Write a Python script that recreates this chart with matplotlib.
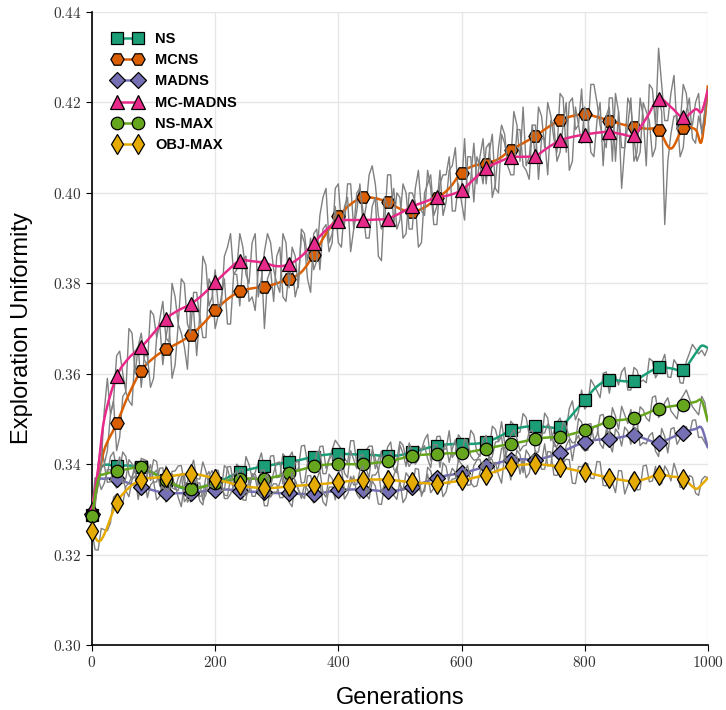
import numpy as np
import matplotlib
matplotlib.use("Agg")
import matplotlib.pyplot as plt
from matplotlib.path import Path
from matplotlib.patches import PathPatch
from matplotlib.lines import Line2D
from matplotlib.ticker import FuncFormatter

plt.rcParams["mathtext.fontset"] = "cm"

# ---------------------------------------------------------------- data
methods = ["NS", "MCNS", "MADNS", "MC-MADNS", "NS-MAX", "OBJ-MAX"]
colors = ["#1b9e77", "#d95f02", "#7570b3", "#e7298a", "#66a61e", "#e6ab02"]
markers = ["s", "H", "D", "^", "o", "d"]

# per-run raw measurements, logged at generations 0, 10, ..., 1000
raw_gen_even = list(range(0, 1001, 10))
# ... and at the in-between generations 5, 15, ..., 995
raw_gen_odd = list(range(5, 1000, 10))

raw_ns = [0.3288, 0.3385, 0.3378, 0.3417, 0.3386, 0.3427, 0.3377, 0.3405, 0.3363, 0.3407,
          0.3380, 0.3353, 0.3396, 0.3348, 0.3370, 0.3317, 0.3355, 0.3367, 0.3330, 0.3384,
          0.3348, 0.3344, 0.3390, 0.3347, 0.3393, 0.3417, 0.3370, 0.3403, 0.3386, 0.3418,
          0.3370, 0.3423, 0.3415, 0.3388, 0.3440, 0.3403, 0.3397, 0.3439, 0.3391, 0.3432,
          0.3443, 0.3413, 0.3452, 0.3401, 0.3411, 0.3440, 0.3390, 0.3429, 0.3438, 0.3399,
          0.3450, 0.3413, 0.3406, 0.3440, 0.3454, 0.3408, 0.3461, 0.3433, 0.3474, 0.3425,
          0.3455, 0.3425, 0.3465, 0.3417, 0.3459, 0.3484, 0.3450, 0.3448, 0.3495, 0.3469,
          0.3512, 0.3463, 0.3494, 0.3453, 0.3502, 0.3472, 0.3502, 0.3475, 0.3540, 0.3516,
          0.3522, 0.3587, 0.3562, 0.3601, 0.3557, 0.3596, 0.3604, 0.3564, 0.3614, 0.3582,
          0.3580, 0.3628, 0.3604, 0.3643, 0.3592, 0.3620, 0.3579, 0.3645, 0.3655, 0.3652,
          0.3657]
raw_ns_mid = [0.3352, 0.3377, 0.3378, 0.3427, 0.3387, 0.3417, 0.3366, 0.3404, 0.3410, 0.3364,
              0.3387, 0.3340, 0.3382, 0.3344, 0.3379, 0.3326, 0.3356, 0.3329, 0.3372, 0.3346,
              0.3341, 0.3397, 0.3364, 0.3400, 0.3355, 0.3399, 0.3382, 0.3425, 0.3377, 0.3419,
              0.3372, 0.3414, 0.3427, 0.3389, 0.3442, 0.3405, 0.3398, 0.3440, 0.3412, 0.3453,
              0.3433, 0.3403, 0.3452, 0.3391, 0.3431, 0.3440, 0.3410, 0.3399, 0.3449, 0.3410,
              0.3442, 0.3395, 0.3429, 0.3431, 0.3466, 0.3420, 0.3462, 0.3434, 0.3415, 0.3465,
              0.3435, 0.3475, 0.3426, 0.3449, 0.3432, 0.3477, 0.3494, 0.3442, 0.3487, 0.3471,
              0.3503, 0.3464, 0.3485, 0.3513, 0.3452, 0.3492, 0.3479, 0.3523, 0.3498, 0.3564,
              0.3530, 0.3575, 0.3547, 0.3604, 0.3597, 0.3575, 0.3614, 0.3564, 0.3608, 0.3586,
              0.3634, 0.3591, 0.3624, 0.3593, 0.3631, 0.3580, 0.3627, 0.3665, 0.3644, 0.3640]

raw_mcns = [0.329, 0.340, 0.340, 0.351, 0.343, 0.355, 0.354, 0.365, 0.357, 0.364,
            0.359, 0.371, 0.368, 0.359, 0.371, 0.366, 0.374, 0.364, 0.368, 0.381,
            0.370, 0.377, 0.371, 0.382, 0.375, 0.386, 0.377, 0.383, 0.370, 0.383,
            0.386, 0.377, 0.383, 0.377, 0.391, 0.381, 0.391, 0.383, 0.393, 0.389,
            0.402, 0.393, 0.402, 0.396, 0.393, 0.404, 0.402, 0.392, 0.404, 0.393,
            0.399, 0.391, 0.400, 0.388, 0.400, 0.404, 0.397, 0.395, 0.405, 0.410,
            0.401, 0.399, 0.411, 0.408, 0.402, 0.413, 0.400, 0.411, 0.407, 0.415,
            0.419, 0.408, 0.407, 0.417, 0.420, 0.412, 0.422, 0.409, 0.421, 0.415,
            0.412, 0.424, 0.420, 0.412, 0.421, 0.407, 0.401, 0.421, 0.412, 0.409,
            0.418, 0.408, 0.421, 0.393, 0.413, 0.417, 0.410, 0.421, 0.411, 0.414,
            0.422]
raw_mcns_mid = [0.330, 0.345, 0.343, 0.354, 0.346, 0.356, 0.353, 0.366, 0.364, 0.357,
                0.368, 0.362, 0.372, 0.362, 0.369, 0.361, 0.374, 0.373, 0.368, 0.379,
                0.373, 0.381, 0.371, 0.382, 0.385, 0.376, 0.374, 0.385, 0.381, 0.376,
                0.388, 0.376, 0.384, 0.380, 0.389, 0.378, 0.392, 0.392, 0.387, 0.401,
                0.393, 0.402, 0.392, 0.402, 0.397, 0.406, 0.395, 0.393, 0.404, 0.400,
                0.390, 0.400, 0.398, 0.389, 0.402, 0.395, 0.405, 0.398, 0.406, 0.399,
                0.412, 0.403, 0.402, 0.412, 0.409, 0.401, 0.413, 0.407, 0.418, 0.407,
                0.406, 0.415, 0.419, 0.410, 0.417, 0.409, 0.421, 0.420, 0.414, 0.423,
                0.413, 0.424, 0.415, 0.410, 0.421, 0.418, 0.410, 0.419, 0.407, 0.420,
                0.416, 0.410, 0.418, 0.407, 0.417, 0.408, 0.418, 0.412, 0.417, 0.415]

raw_madns = [0.3290, 0.3370, 0.3358, 0.3388, 0.3347, 0.3373, 0.3328, 0.3374, 0.3360, 0.3326,
             0.3362, 0.3329, 0.3316, 0.3366, 0.3326, 0.3356, 0.3316, 0.3348, 0.3310, 0.3362,
             0.3333, 0.3364, 0.3324, 0.3353, 0.3371, 0.3320, 0.3329, 0.3358, 0.3308, 0.3347,
             0.3356, 0.3326, 0.3316, 0.3365, 0.3324, 0.3344, 0.3314, 0.3356, 0.3308, 0.3350,
             0.3362, 0.3323, 0.3354, 0.3334, 0.3374, 0.3323, 0.3352, 0.3311, 0.3360, 0.3331,
             0.3363, 0.3326, 0.3380, 0.3345, 0.3340, 0.3385, 0.3360, 0.3403, 0.3356, 0.3368,
             0.3400, 0.3353, 0.3397, 0.3411, 0.3375, 0.3409, 0.3393, 0.3437, 0.3390, 0.3431,
             0.3381, 0.3420, 0.3430, 0.3403, 0.3396, 0.3450, 0.3415, 0.3441, 0.3408, 0.3464,
             0.3429, 0.3462, 0.3484, 0.3435, 0.3446, 0.3478, 0.3440, 0.3473, 0.3495, 0.3441,
             0.3445, 0.3470, 0.3417, 0.3461, 0.3478, 0.3444, 0.3480, 0.3465, 0.3498, 0.3460,
             0.3436]
raw_madns_mid = [0.3335, 0.3344, 0.3388, 0.3358, 0.3395, 0.3341, 0.3366, 0.3322, 0.3368, 0.3354,
                 0.3321, 0.3368, 0.3326, 0.3356, 0.3306, 0.3346, 0.3357, 0.3319, 0.3351, 0.3333,
                 0.3374, 0.3324, 0.3334, 0.3362, 0.3321, 0.3370, 0.3329, 0.3348, 0.3308, 0.3357,
                 0.3326, 0.3356, 0.3306, 0.3345, 0.3354, 0.3324, 0.3365, 0.3317, 0.3349, 0.3321,
                 0.3363, 0.3334, 0.3374, 0.3324, 0.3334, 0.3363, 0.3312, 0.3351, 0.3361, 0.3322,
                 0.3315, 0.3368, 0.3363, 0.3338, 0.3393, 0.3358, 0.3352, 0.3395, 0.3367, 0.3409,
                 0.3392, 0.3355, 0.3409, 0.3383, 0.3417, 0.3381, 0.3435, 0.3399, 0.3391, 0.3421,
                 0.3431, 0.3390, 0.3402, 0.3445, 0.3398, 0.3433, 0.3398, 0.3455, 0.3451, 0.3437,
                 0.3431, 0.3483, 0.3445, 0.3476, 0.3427, 0.3469, 0.3482, 0.3444, 0.3493, 0.3448,
                 0.3463, 0.3429, 0.3479, 0.3425, 0.3481, 0.3457, 0.3483, 0.3497, 0.3459, 0.3448]

raw_mcmadns = [0.330, 0.336, 0.352, 0.351, 0.364, 0.360, 0.370, 0.360, 0.369, 0.362,
               0.373, 0.372, 0.368, 0.380, 0.371, 0.380, 0.369, 0.378, 0.386, 0.375,
               0.383, 0.375, 0.388, 0.382, 0.391, 0.382, 0.389, 0.377, 0.387, 0.389,
               0.380, 0.391, 0.379, 0.386, 0.392, 0.385, 0.383, 0.395, 0.401, 0.391,
               0.389, 0.397, 0.387, 0.400, 0.396, 0.390, 0.399, 0.385, 0.397, 0.401,
               0.394, 0.400, 0.392, 0.405, 0.395, 0.401, 0.393, 0.404, 0.408, 0.396,
               0.398, 0.408, 0.398, 0.406, 0.410, 0.399, 0.410, 0.413, 0.404, 0.414,
               0.406, 0.403, 0.415, 0.412, 0.404, 0.415, 0.409, 0.420, 0.407, 0.415,
               0.419, 0.409, 0.416, 0.406, 0.419, 0.422, 0.410, 0.415, 0.407, 0.421,
               0.406, 0.423, 0.432, 0.416, 0.422, 0.414, 0.424, 0.415, 0.420, 0.413,
               0.423]
raw_mcmadns_mid = [0.337, 0.340, 0.359, 0.354, 0.365, 0.356, 0.369, 0.366, 0.363, 0.374,
                   0.368, 0.376, 0.367, 0.377, 0.381, 0.371, 0.378, 0.372, 0.384, 0.377,
                   0.375, 0.386, 0.391, 0.383, 0.388, 0.380, 0.391, 0.381, 0.391, 0.383,
                   0.378, 0.389, 0.388, 0.379, 0.391, 0.390, 0.385, 0.399, 0.389, 0.397,
                   0.388, 0.399, 0.392, 0.401, 0.390, 0.397, 0.386, 0.399, 0.397, 0.392,
                   0.402, 0.392, 0.401, 0.396, 0.405, 0.393, 0.402, 0.404, 0.396, 0.402,
                   0.394, 0.408, 0.408, 0.402, 0.411, 0.402, 0.415, 0.406, 0.404, 0.414,
                   0.405, 0.415, 0.403, 0.412, 0.416, 0.407, 0.415, 0.405, 0.419, 0.411,
                   0.417, 0.408, 0.420, 0.417, 0.407, 0.418, 0.410, 0.421, 0.409, 0.417,
                   0.424, 0.415, 0.424, 0.416, 0.426, 0.415, 0.422, 0.415, 0.422, 0.418]

raw_nsmax = [0.3285, 0.3355, 0.3398, 0.3361, 0.3394, 0.3357, 0.3410, 0.3382, 0.3413, 0.3367,
             0.3410, 0.3362, 0.3344, 0.3377, 0.3342, 0.3377, 0.3325, 0.3357, 0.3320, 0.3374,
             0.3368, 0.3341, 0.3394, 0.3356, 0.3388, 0.3338, 0.3378, 0.3357, 0.3387, 0.3350,
             0.3403, 0.3356, 0.3390, 0.3404, 0.3358, 0.3402, 0.3385, 0.3428, 0.3379, 0.3420,
             0.3390, 0.3380, 0.3430, 0.3390, 0.3420, 0.3371, 0.3413, 0.3424, 0.3396, 0.3389,
             0.3442, 0.3395, 0.3429, 0.3410, 0.3441, 0.3392, 0.3443, 0.3433, 0.3404, 0.3454,
             0.3415, 0.3447, 0.3409, 0.3421, 0.3464, 0.3417, 0.3450, 0.3412, 0.3465, 0.3457,
             0.3440, 0.3473, 0.3426, 0.3468, 0.3489, 0.3440, 0.3451, 0.3484, 0.3447, 0.3501,
             0.3465, 0.3490, 0.3465, 0.3510, 0.3464, 0.3506, 0.3528, 0.3490, 0.3482, 0.3527,
             0.3502, 0.3548, 0.3503, 0.3536, 0.3518, 0.3500, 0.3552, 0.3545, 0.3518, 0.3550,
             0.3494]
raw_nsmax_mid = [0.3315, 0.3392, 0.3360, 0.3393, 0.3416, 0.3369, 0.3401, 0.3363, 0.3410, 0.3374,
                 0.3406, 0.3348, 0.3371, 0.3345, 0.3370, 0.3316, 0.3366, 0.3359, 0.3332, 0.3386,
                 0.3350, 0.3343, 0.3395, 0.3357, 0.3388, 0.3338, 0.3378, 0.3387, 0.3349, 0.3382,
                 0.3405, 0.3368, 0.3362, 0.3406, 0.3360, 0.3404, 0.3427, 0.3379, 0.3410, 0.3390,
                 0.3420, 0.3370, 0.3410, 0.3420, 0.3390, 0.3432, 0.3384, 0.3395, 0.3428, 0.3381,
                 0.3424, 0.3447, 0.3400, 0.3431, 0.3412, 0.3443, 0.3393, 0.3444, 0.3434, 0.3405,
                 0.3456, 0.3418, 0.3410, 0.3453, 0.3406, 0.3449, 0.3461, 0.3434, 0.3476, 0.3429,
                 0.3442, 0.3475, 0.3427, 0.3469, 0.3480, 0.3440, 0.3493, 0.3459, 0.3449, 0.3493,
                 0.3488, 0.3453, 0.3508, 0.3482, 0.3525, 0.3477, 0.3509, 0.3521, 0.3475, 0.3520,
                 0.3495, 0.3551, 0.3515, 0.3547, 0.3509, 0.3541, 0.3564, 0.3527, 0.3509, 0.3537]

raw_objmax = [0.3252, 0.3210, 0.3255, 0.3270, 0.3334, 0.3313, 0.3358, 0.3388, 0.3346, 0.3378,
              0.3360, 0.3391, 0.3342, 0.3384, 0.3396, 0.3358, 0.3389, 0.3368, 0.3405, 0.3352,
              0.3388, 0.3354, 0.3330, 0.3376, 0.3363, 0.3331, 0.3379, 0.3338, 0.3367, 0.3327,
              0.3338, 0.3380, 0.3331, 0.3362, 0.3333, 0.3374, 0.3345, 0.3386, 0.3327, 0.3368,
              0.3380, 0.3342, 0.3373, 0.3355, 0.3396, 0.3346, 0.3376, 0.3336, 0.3386, 0.3375,
              0.3353, 0.3381, 0.3340, 0.3389, 0.3348, 0.3337, 0.3377, 0.3328, 0.3370, 0.3382,
              0.3354, 0.3397, 0.3350, 0.3383, 0.3357, 0.3401, 0.3376, 0.3420, 0.3365, 0.3417,
              0.3409, 0.3380, 0.3420, 0.3389, 0.3428, 0.3376, 0.3384, 0.3411, 0.3358, 0.3395,
              0.3402, 0.3369, 0.3406, 0.3353, 0.3380, 0.3337, 0.3385, 0.3353, 0.3382, 0.3344,
              0.3398, 0.3363, 0.3357, 0.3396, 0.3363, 0.3380, 0.3348, 0.3375, 0.3336, 0.3365,
              0.3370]
raw_objmax_mid = [0.3211, 0.3258, 0.3253, 0.3327, 0.3304, 0.3351, 0.3373, 0.3352, 0.3347, 0.3399,
                  0.3361, 0.3392, 0.3343, 0.3385, 0.3397, 0.3359, 0.3409, 0.3367, 0.3384, 0.3350,
                  0.3386, 0.3332, 0.3368, 0.3385, 0.3332, 0.3340, 0.3369, 0.3328, 0.3377, 0.3338,
                  0.3359, 0.3331, 0.3382, 0.3343, 0.3324, 0.3375, 0.3366, 0.3337, 0.3378, 0.3349,
                  0.3391, 0.3343, 0.3354, 0.3386, 0.3336, 0.3376, 0.3386, 0.3356, 0.3346, 0.3394,
                  0.3342, 0.3371, 0.3390, 0.3329, 0.3378, 0.3347, 0.3368, 0.3339, 0.3391, 0.3353,
                  0.3386, 0.3359, 0.3352, 0.3405, 0.3369, 0.3404, 0.3358, 0.3403, 0.3416, 0.3378,
                  0.3370, 0.3420, 0.3410, 0.3389, 0.3427, 0.3375, 0.3403, 0.3410, 0.3357, 0.3394,
                  0.3401, 0.3368, 0.3405, 0.3352, 0.3359, 0.3386, 0.3334, 0.3373, 0.3343, 0.3396,
                  0.3361, 0.3395, 0.3357, 0.3385, 0.3402, 0.3349, 0.3352, 0.3371, 0.3331, 0.3373]

# generations of the smoothed mean curves (markers sit every 40 generations)
mean_gen = [0, 10] + list(range(20, 981, 20)) + [990, 1000]

mean_ns = [0.3288, 0.3375, 0.3398, 0.3396, 0.3397, 0.3393, 0.3380, 0.3366, 0.3350, 0.3345,
           0.3350, 0.3358, 0.3370, 0.3383, 0.3390, 0.3396, 0.3400, 0.3405, 0.3410, 0.3417,
           0.3421, 0.3423, 0.3422, 0.3421, 0.3420, 0.3418, 0.3420, 0.3426, 0.3434, 0.3441,
           0.3444, 0.3445, 0.3445, 0.3449, 0.3460, 0.3475, 0.3482, 0.3484, 0.3482, 0.3482,
           0.3510, 0.3542, 0.3572, 0.3587, 0.3584, 0.3584, 0.3600, 0.3614, 0.3612, 0.3609,
           0.3645, 0.3662, 0.3657]

mean_mcns = [0.3290, 0.3360, 0.3432, 0.3490, 0.3555, 0.3607, 0.3635, 0.3654, 0.3668, 0.3685,
             0.3710, 0.3740, 0.3765, 0.3782, 0.3789, 0.3792, 0.3800, 0.3810, 0.3825, 0.3863,
             0.3910, 0.3948, 0.3975, 0.3990, 0.3988, 0.3980, 0.3965, 0.3958, 0.3968, 0.3988,
             0.4010, 0.4045, 0.4060, 0.4065, 0.4075, 0.4095, 0.4110, 0.4126, 0.4145, 0.4161,
             0.4170, 0.4174, 0.4168, 0.4160, 0.4152, 0.4146, 0.4142, 0.4139, 0.4098, 0.4143,
             0.4140, 0.4115, 0.4238]

mean_madns = [0.3290, 0.3360, 0.3368, 0.3367, 0.3358, 0.3350, 0.3342, 0.3336, 0.3336, 0.3336,
              0.3340, 0.3343, 0.3344, 0.3341, 0.3339, 0.3338, 0.3336, 0.3336, 0.3334, 0.3334,
              0.3338, 0.3342, 0.3344, 0.3344, 0.3342, 0.3340, 0.3343, 0.3350, 0.3360, 0.3370,
              0.3376, 0.3380, 0.3387, 0.3395, 0.3403, 0.3410, 0.3411, 0.3410, 0.3416, 0.3425,
              0.3438, 0.3449, 0.3454, 0.3456, 0.3460, 0.3465, 0.3455, 0.3447, 0.3458, 0.3470,
              0.3478, 0.3480, 0.3436]

mean_mcmadns = [0.3300, 0.3390, 0.3500, 0.3594, 0.3635, 0.3659, 0.3690, 0.3722, 0.3740, 0.3754,
                0.3775, 0.3802, 0.3828, 0.3850, 0.3849, 0.3845, 0.3838, 0.3842, 0.3860, 0.3889,
                0.3918, 0.3938, 0.3940, 0.3940, 0.3941, 0.3943, 0.3955, 0.3970, 0.3980, 0.3990,
                0.3995, 0.4006, 0.4030, 0.4055, 0.4068, 0.4079, 0.4080, 0.4082, 0.4100, 0.4116,
                0.4124, 0.4129, 0.4133, 0.4135, 0.4130, 0.4128, 0.4165, 0.4208, 0.4190, 0.4167,
                0.4185, 0.4180, 0.4228]

mean_nsmax = [0.3285, 0.3365, 0.3378, 0.3384, 0.3390, 0.3393, 0.3380, 0.3364, 0.3352, 0.3345,
              0.3350, 0.3358, 0.3364, 0.3368, 0.3368, 0.3367, 0.3373, 0.3380, 0.3388, 0.3395,
              0.3399, 0.3400, 0.3400, 0.3400, 0.3403, 0.3406, 0.3412, 0.3419, 0.3421, 0.3423,
              0.3424, 0.3425, 0.3429, 0.3434, 0.3440, 0.3445, 0.3450, 0.3456, 0.3459, 0.3461,
              0.3467, 0.3475, 0.3485, 0.3494, 0.3498, 0.3502, 0.3512, 0.3523, 0.3528, 0.3532,
              0.3538, 0.3540, 0.3494]

mean_objmax = [0.3252, 0.3230, 0.3245, 0.3314, 0.3348, 0.3366, 0.3370, 0.3372, 0.3376, 0.3379,
               0.3375, 0.3368, 0.3360, 0.3353, 0.3349, 0.3347, 0.3348, 0.3351, 0.3353, 0.3355,
               0.3357, 0.3360, 0.3363, 0.3366, 0.3366, 0.3366, 0.3363, 0.3360, 0.3358, 0.3357,
               0.3360, 0.3364, 0.3370, 0.3377, 0.3386, 0.3395, 0.3399, 0.3400, 0.3398, 0.3394,
               0.3388, 0.3382, 0.3376, 0.3370, 0.3365, 0.3362, 0.3368, 0.3377, 0.3373, 0.3368,
               0.3346, 0.3355, 0.3370]

raw_even = [raw_ns, raw_mcns, raw_madns, raw_mcmadns, raw_nsmax, raw_objmax]
raw_odd = [raw_ns_mid, raw_mcns_mid, raw_madns_mid, raw_mcmadns_mid, raw_nsmax_mid,
           raw_objmax_mid]
mean_series = [mean_ns, mean_mcns, mean_madns, mean_mcmadns, mean_nsmax, mean_objmax]

x_ticks = [0, 200, 400, 600, 800, 1000]
y_ticks = [0.30, 0.32, 0.34, 0.36, 0.38, 0.40, 0.42, 0.44]


def merge_logs(gen_a, val_a, gen_b, val_b):
    """Put two interleaved logs back into generation order."""
    g = np.concatenate([gen_a, gen_b])
    v = np.concatenate([val_a, val_b])
    order = np.argsort(g, kind="stable")
    return g[order], v[order]


def smooth_path(xs, ys):
    """Catmull-Rom curve through the given points, as cubic Bezier segments."""
    pts = np.column_stack([xs, ys]).astype(float)
    n = len(pts)
    verts = [pts[0]]
    codes = [Path.MOVETO]
    for i in range(n - 1):
        p0 = pts[max(i - 1, 0)]
        p1 = pts[i]
        p2 = pts[i + 1]
        p3 = pts[min(i + 2, n - 1)]
        c1 = p1 + (p2 - p0) / 6.0
        c2 = p2 - (p3 - p1) / 6.0
        verts += [c1, c2, p2]
        codes += [Path.CURVE4] * 3
    return Path(verts, codes)


# ---------------------------------------------------------------- figure
fig = plt.figure(figsize=(7.26, 7.10), dpi=100)
ax = fig.add_axes([0.1267, 0.0915, 0.8483, 0.8915])

ax.set_xlim(0, 1000)
ax.set_ylim(0.30, 0.44)
ax.set_xticks(x_ticks)
ax.set_yticks(y_ticks)
ax.xaxis.set_major_formatter(FuncFormatter(lambda v, p: r"$%d$" % int(round(v))))
ax.yaxis.set_major_formatter(FuncFormatter(lambda v, p: r"$%.2f$" % v))
ax.tick_params(axis="both", labelsize=11, length=4, width=0.8, direction="out",
               colors="black", labelcolor="#333333")
ax.grid(True, color="#e6e6e6", linewidth=1.0)
ax.set_axisbelow(True)
for side in ("top", "right"):
    ax.spines[side].set_visible(False)
for side in ("left", "bottom"):
    ax.spines[side].set_linewidth(1.2)
    ax.spines[side].set_color("black")

mean_gen_arr = np.array(mean_gen)
mark_sel = (mean_gen_arr % 40 == 0) & (mean_gen_arr <= 960)

msizes = {"s": 8.5, "H": 9.5, "D": 8.5, "^": 9.5, "o": 9.0, "d": 10.5}

handles = []
for k, name in enumerate(methods):
    z = 2 + 3 * k
    g, v = merge_logs(raw_gen_even, raw_even[k], raw_gen_odd, raw_odd[k])
    ax.plot(g, v, color="#808080", linewidth=1.0, zorder=z)
    ys = np.array(mean_series[k])
    patch = PathPatch(smooth_path(mean_gen_arr, ys), facecolor="none",
                      edgecolor=colors[k], linewidth=1.8, zorder=z + 1,
                      transform=ax.transData)
    ax.add_patch(patch)
    ax.plot(mean_gen_arr[mark_sel], ys[mark_sel], linestyle="none",
            marker=markers[k], markersize=msizes[markers[k]],
            markerfacecolor=colors[k], markeredgecolor="black",
            markeredgewidth=0.9, zorder=z + 2, clip_on=False)
    handles.append(Line2D([], [], color=colors[k], linewidth=1.8,
                          marker=markers[k], markersize=msizes[markers[k]],
                          markerfacecolor=colors[k], markeredgecolor="black",
                          markeredgewidth=0.9))

leg = ax.legend(handles, methods, loc="upper left", bbox_to_anchor=(0.0172, 0.985),
                frameon=False, numpoints=2, handlelength=2.05, handletextpad=0.86,
                labelspacing=0.5, borderaxespad=0.3,
                prop={"family": "Liberation Sans", "weight": "bold", "size": 10.5})
leg.set_zorder(30)

label_font = {"family": ["Liberation Sans Narrow", "Liberation Sans"], "size": 17}
ax.set_xlabel("Generations", fontdict=label_font, labelpad=12)
ax.set_ylabel("Exploration Uniformity", fontdict=label_font, labelpad=14)

fig.savefig("out.png", dpi=100)
